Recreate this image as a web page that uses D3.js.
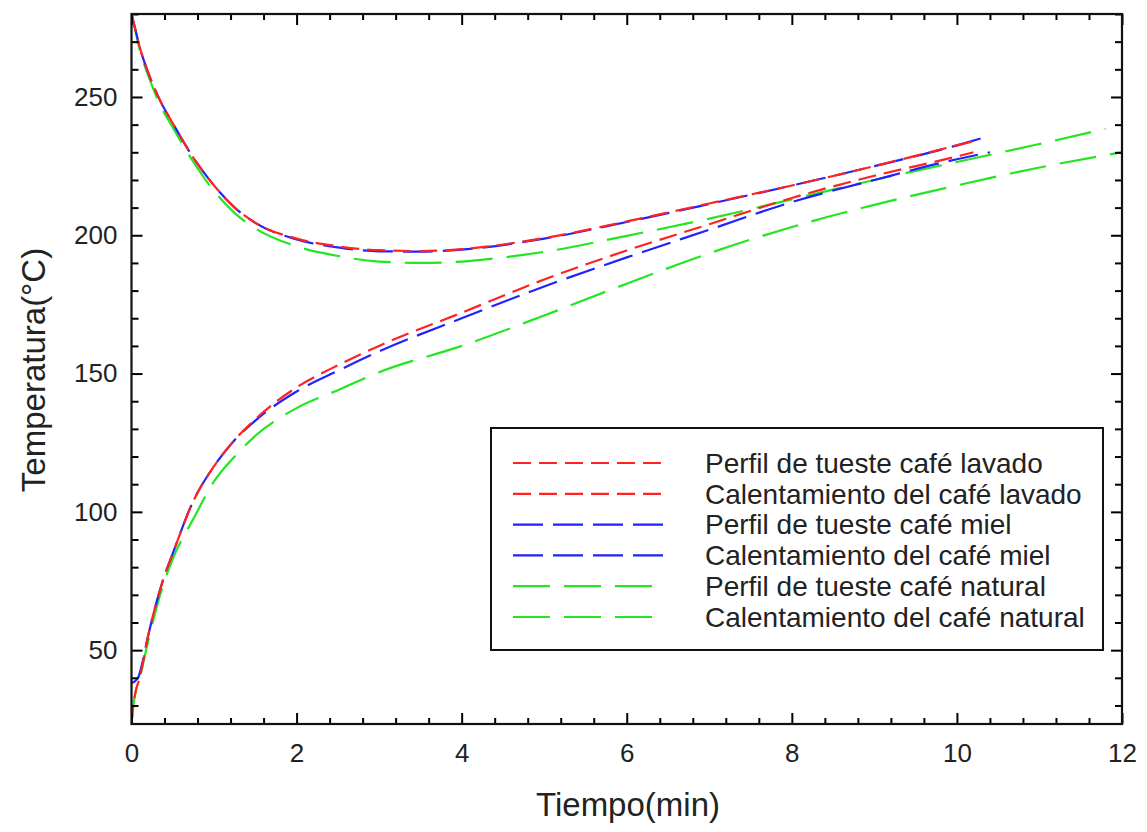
<!DOCTYPE html>
<html>
<head>
<meta charset="utf-8">
<script src="https://cdn.jsdelivr.net/npm/d3@7"></script>
<style>
  html, body { margin: 0; padding: 0; background: #ffffff; }
  svg { display: block; font-family: "Liberation Sans", Arial, sans-serif; }
</style>
</head>
<body>
<svg id="chart" width="1147" height="832"></svg>
<script>
// ---------------- data ----------------
const seriesNames = [
  "Perfil de tueste café lavado",
  "Calentamiento del café lavado",
  "Perfil de tueste café miel",
  "Calentamiento del café miel",
  "Perfil de tueste café natural",
  "Calentamiento del café natural"
];

const tPerfilLavado = [0,0.05,0.1,0.2,0.35,0.5,0.75,1,1.25,1.5,2,2.5,3,3.5,4,5,6,7,8,9,10,10.2];
const vPerfilLavado = [280,274,268,259,248.5,240.5,228,218,210,204.5,198.8,196,194.6,194.3,195,199,205,211.5,218,225,232.5,234];

const tCalLavado = [0,0.02,0.05,0.1,0.2,0.3,0.4,0.5,0.75,1,1.25,1.5,2,2.5,3,4,5,6,7,8,9,10,10.2];
const vCalLavado = [23.3,29.5,35,40,55,67,77,85,104,116.5,126,133.5,145,153,160,172,184,194.5,204,213.5,221.5,228.5,230];

const tPerfilMiel = [0,0.05,0.1,0.2,0.35,0.5,0.75,1,1.25,1.5,2,2.5,3,3.5,4,5,6,7,8,9,10,10.4];
const vPerfilMiel = [280,274,268,259,248.5,240.5,228,218,210,204.5,198.5,195.6,194.2,194.1,194.8,198.8,204.8,211.3,218,225,232.5,236];

const tCalMiel = [0,0.08,0.12,0.2,0.3,0.4,0.5,0.75,1,1.25,1.5,2,2.5,3,4,5,6,7,8,9,10,10.4];
const vCalMiel = [38,40,44,55,67,77,85,104,116.5,126,133,143.5,151,158,170,181.5,192,202,212,220,227.5,230];

const tPerfilNatural = [0,0.05,0.1,0.2,0.35,0.5,0.75,1,1.25,1.5,2,2.5,3,3.5,4,4.5,5,6,7,8,9,10,11,11.8];
const vPerfilNatural = [280,273.5,267,258,247,239,226.5,216,208,202.5,196,192.5,190.5,190,190.5,192,194,199.8,206,213,220,226.5,233,238.5];

const tCalNatural = [0,0.02,0.05,0.1,0.2,0.3,0.4,0.5,0.75,1,1.25,1.5,2,2.5,3,4,5,6,7,8,9,10,11,12];
const vCalNatural = [23.3,29.5,35,40,53,65,75,83,97.5,111,120,127.5,137.5,144,150.5,160,171,182.5,193.5,203,211,218,224.5,230];

const seriesColors = ["#ff2222","#ff2222","#2222ff","#2222ff","#22e622","#22e622"];
const seriesDash = ["18,8","18,8","30,10","30,10","37,14","37,14"];

const xTicksMajor = [0,2,4,6,8,10,12];
const yTicksMajor = [50,100,150,200,250];
const xDomain = [0,12];
const yDomain = [23.3,280];
const xTitle = "Tiempo(min)";
const yTitle = "Temperatura(°C)";

// ---------------- drawing ----------------
const svg = d3.select("#chart");
const pL = 131.5, pR = 1122, pT = 14, pB = 724;

const x = d3.scaleLinear().domain(xDomain).range([pL, pR]);
const y = d3.scaleLinear().domain(yDomain).range([pB, pT]);

const series = [
  [tPerfilLavado, vPerfilLavado],
  [tCalLavado, vCalLavado],
  [tPerfilMiel, vPerfilMiel],
  [tCalMiel, vCalMiel],
  [tPerfilNatural, vPerfilNatural],
  [tCalNatural, vCalNatural]
].map((s, i) => ({
  name: seriesNames[i],
  color: seriesColors[i],
  dash: seriesDash[i],
  pts: s[0].map((t, j) => ({t, v: s[1][j]}))
}));

const line = d3.line().x(d => x(d.t)).y(d => y(d.v)).curve(d3.curveMonotoneX);

svg.append("defs").append("clipPath").attr("id","clip")
  .append("rect").attr("x", pL).attr("y", pT).attr("width", pR-pL).attr("height", pB-pT);

const order = [5,4,3,2,1,0];
const linesG = svg.append("g").attr("clip-path","url(#clip)");
linesG.selectAll("path").data(order.map(i => series[i])).join("path")
  .attr("d", d => line(d.pts))
  .attr("fill","none")
  .attr("stroke", d => d.color)
  .attr("stroke-width", 2.2)
  .attr("stroke-dasharray", d => d.dash);

const xMinor = d3.range(0, 12.0001, 0.4).filter(v => !xTicksMajor.some(m => Math.abs(m - v) < 1e-6));
const yMinor = d3.range(30, 280.0001, 10).filter(v => !yTicksMajor.includes(Math.round(v)));

function styleAxis(g) {
  g.select(".domain").remove();
  g.selectAll(".tick line").attr("stroke","#000").attr("stroke-width",2);
}
function styleText(g) {
  g.selectAll("text").attr("font-size",26).attr("fill","#222").attr("font-family","Liberation Sans, Arial, sans-serif");
}

svg.append("g").attr("transform",`translate(0,${pB})`)
  .call(d3.axisBottom(x).tickValues(xTicksMajor).tickSize(-11).tickPadding(20).tickFormat(d3.format("d")))
  .call(styleAxis).call(styleText);
svg.append("g").attr("transform",`translate(0,${pB})`)
  .call(d3.axisBottom(x).tickValues(xMinor).tickSize(-6).tickFormat(""))
  .call(styleAxis);
svg.append("g").attr("transform",`translate(0,${pT})`)
  .call(d3.axisTop(x).tickValues(xTicksMajor).tickSize(-11).tickFormat(""))
  .call(styleAxis);
svg.append("g").attr("transform",`translate(0,${pT})`)
  .call(d3.axisTop(x).tickValues(xMinor).tickSize(-6).tickFormat(""))
  .call(styleAxis);
svg.append("g").attr("transform",`translate(${pL},0)`)
  .call(d3.axisLeft(y).tickValues(yTicksMajor).tickSize(-11).tickPadding(14).tickFormat(d3.format("d")))
  .call(styleAxis).call(styleText);
svg.append("g").attr("transform",`translate(${pL},0)`)
  .call(d3.axisLeft(y).tickValues(yMinor).tickSize(-7).tickFormat(""))
  .call(styleAxis);
svg.append("g").attr("transform",`translate(${pR},0)`)
  .call(d3.axisRight(y).tickValues(yTicksMajor).tickSize(-11).tickFormat(""))
  .call(styleAxis);
svg.append("g").attr("transform",`translate(${pR},0)`)
  .call(d3.axisRight(y).tickValues(yMinor).tickSize(-7).tickFormat(""))
  .call(styleAxis);

svg.append("rect").attr("x", pL).attr("y", pT).attr("width", pR-pL).attr("height", pB-pT)
  .attr("fill","none").attr("stroke","#111").attr("stroke-width",2.2);

svg.append("text").attr("x", 628).attr("y", 816)
  .attr("text-anchor","middle").attr("font-size",33).attr("fill","#222").text(xTitle);
svg.append("text").attr("transform", `translate(45,370) rotate(-90)`)
  .attr("text-anchor","middle").attr("font-size",33).attr("fill","#222").text(yTitle);

const lg = svg.append("g");
lg.append("rect").attr("x",491).attr("y",428).attr("width",612).attr("height",222)
  .attr("fill","#fff").attr("stroke","#111").attr("stroke-width",2);
const rowY = i => 463 + i*30.8;
const lens = [148,148,150,150,139,139];
series.forEach((s, i) => {
  lg.append("line").attr("x1",513).attr("x2",513+lens[i]).attr("y1",rowY(i)).attr("y2",rowY(i))
    .attr("stroke",s.color).attr("stroke-width",2.2).attr("stroke-dasharray",s.dash);
  lg.append("text").attr("x",705).attr("y",rowY(i)).attr("dy","0.35em")
    .attr("font-size",28).attr("fill","#222").text(s.name);
});
</script>
</body>
</html>
